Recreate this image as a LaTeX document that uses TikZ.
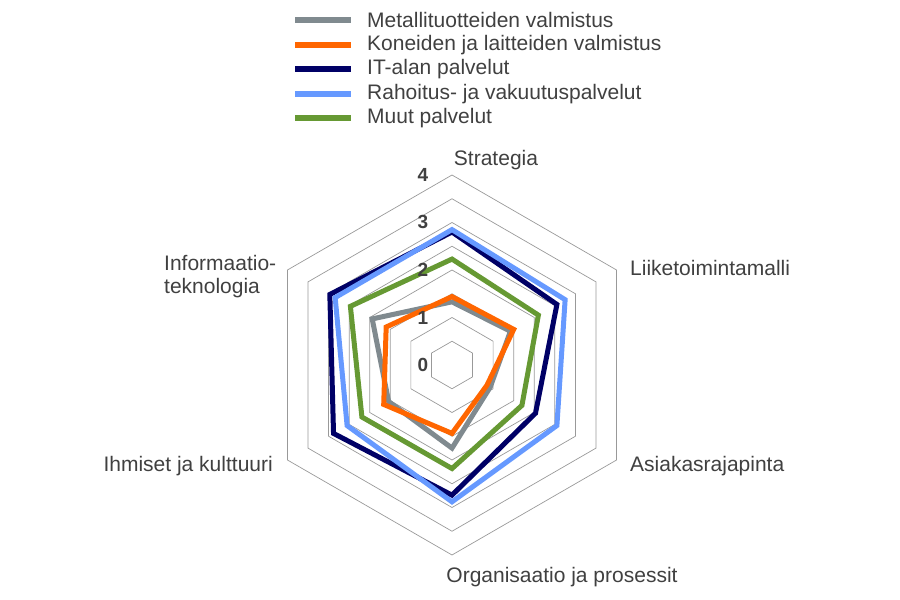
\documentclass[tikz,border=0pt]{standalone}
\usepackage{fontspec}
\usetikzlibrary{calc}
\setmainfont{Liberation Sans}
\definecolor{cgray}{HTML}{808A8F}
\definecolor{corange}{HTML}{FF6600}
\definecolor{cnavy}{HTML}{000066}
\definecolor{cblue}{HTML}{6699FF}
\definecolor{cgreen}{HTML}{669933}
\definecolor{ctext}{HTML}{404040}
\begin{document}
\begin{tikzpicture}[x=1pt,y=1pt,
  lbl/.style={font=\fontsize{21}{23}\selectfont,text=ctext,inner sep=0pt},
  tick/.style={font=\bfseries\fontsize{19}{21}\selectfont,text=ctext,inner sep=0pt},
  series/.style={line width=5pt,line join=miter}]
\useasboundingbox (0,0) rectangle (900,600);
\coordinate (O) at (452,235);
\def\U{47.5}
% grid
\foreach \k in {1,...,8}{
  \draw[gray!80,line width=0.7pt] ($(O)+(90:\k*\U/2)$) \foreach \i in {1,...,5}{ -- ($(O)+(90-60*\i:\k*\U/2)$)} -- cycle;
}
% series
\newcommand\series[7]{%
  \draw[series,#1] ($(O)+(90:#2*\U)$) -- ($(O)+(30:#3*\U)$) -- ($(O)+(-30:#4*\U)$) -- ($(O)+(-90:#5*\U)$) -- ($(O)+(-150:#6*\U)$) -- ($(O)+(150:#7*\U)$) -- cycle;}
\series{cgray}{1.33}{1.42}{0.93}{1.75}{1.54}{1.94}
\series{corange}{1.44}{1.5}{0.85}{1.44}{1.66}{1.6}
\series{cnavy}{2.8}{2.55}{2.03}{2.74}{2.88}{2.97}
\series{cblue}{2.85}{2.75}{2.55}{2.88}{2.55}{2.84}
\series{cgreen}{2.23}{2.1}{1.7}{2.18}{2.19}{2.47}
% ticks
\node[tick] (t0) at (423,235) {0};
\node[tick] (t1) at (423,282) {1};
\node[tick] (t2) at (423,330) {2};
\node[tick] (t3) at (423,378) {3};
\node[tick] (t4) at (423,425) {4};
% axis labels
\node[lbl] (a1) at (496,440) {Strategia};
\node[lbl,anchor=west] (a2) at (630,332) {Liiketoimintamalli};
\node[lbl,anchor=west] (a3) at (630,134) {Asiakasrajapinta};
\node[lbl] (a4) at (562,23) {Organisaatio ja prosessit};
\node[lbl,anchor=east] (a5) at (273,134) {Ihmiset ja kulttuuri};
\node[lbl,anchor=west,align=left] (a6) at (164,323) {Informaatio-\\teknologia};
% legend
\foreach \c/\t [count=\j] in {cgray/Metallituotteiden valmistus,corange/Koneiden ja laitteiden valmistus,cnavy/IT-alan palvelut,cblue/Rahoitus- ja vakuutuspalvelut,cgreen/Muut palvelut}{
  \coordinate (l\j a) at (295,604-24.5*\j);
  \coordinate (l\j b) at (351,604-24.5*\j);
  \draw[line width=6pt,\c] (l\j a) -- (l\j b);
  \node[lbl,anchor=west] (lt\j) at (367,604-24.5*\j) {\t};
}
\end{tikzpicture}
\end{document}
